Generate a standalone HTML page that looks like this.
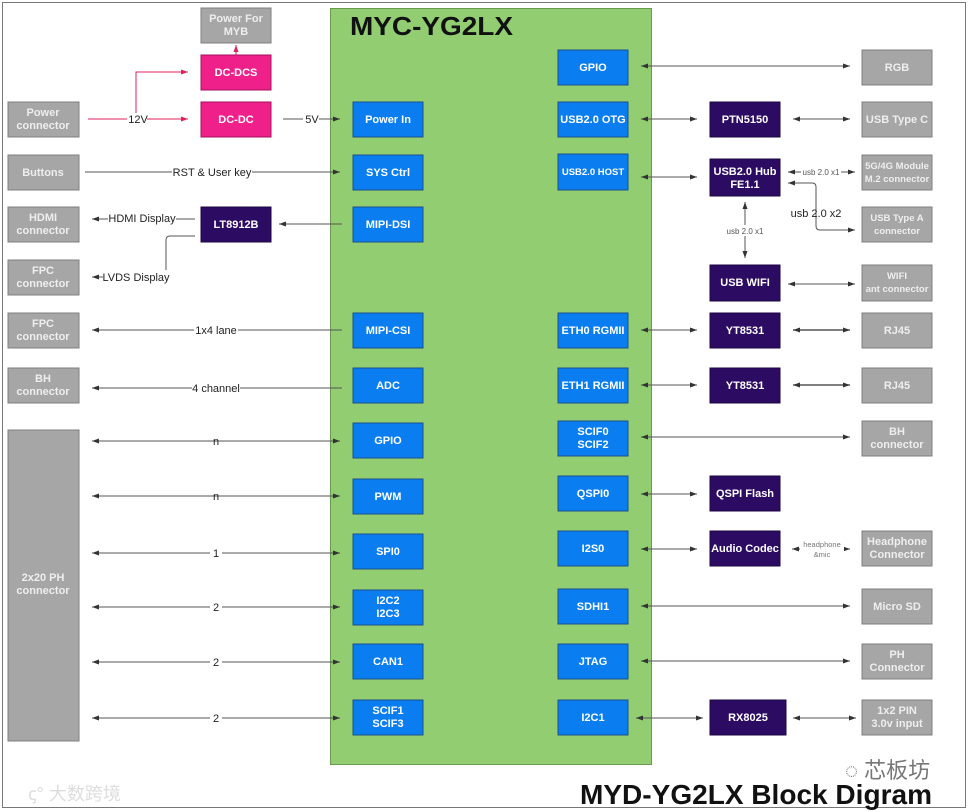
<!DOCTYPE html>
<html><head><meta charset="utf-8"><style>
html,body{margin:0;padding:0;background:#fff;}
svg{display:block;font-family:"Liberation Sans",Arial,sans-serif;}
.g{fill:#a6a6a6;stroke:#7f7f7f;stroke-width:1}
.b{fill:#0a7ef0;stroke:#1c4f8a;stroke-width:1}
.p{fill:#2c0b63;stroke:#1c0740;stroke-width:1}
.k{fill:#f0208a;stroke:#a0105a;stroke-width:1}
.t{font-size:11px;font-weight:bold;fill:#fff;text-anchor:middle}
.tg{font-size:11px;font-weight:bold;fill:#eeeeee;text-anchor:middle}
.sm{font-size:9.5px}
.l{stroke:#555;stroke-width:1;fill:none}
.lb{font-size:11px;fill:#222;text-anchor:middle}
</style></head><body>
<svg width="968" height="812" viewBox="0 0 968 812" xmlns="http://www.w3.org/2000/svg">
<defs>
<marker id="a" markerWidth="8" markerHeight="8" refX="7" refY="4" orient="auto" markerUnits="userSpaceOnUse"><path d="M0,1.5 L7,4 L0,6.5z" fill="#333"/></marker>
<marker id="s" markerWidth="8" markerHeight="8" refX="1" refY="4" orient="auto" markerUnits="userSpaceOnUse"><path d="M8,1.5 L1,4 L8,6.5z" fill="#333"/></marker>
<marker id="r" markerWidth="8" markerHeight="8" refX="7" refY="4" orient="auto" markerUnits="userSpaceOnUse"><path d="M0,1.5 L7,4 L0,6.5z" fill="#e0205a"/></marker>
</defs>
<rect x="2.5" y="2.5" width="963" height="805" fill="#fff" stroke="#777" stroke-width="1"/>
<rect x="330.5" y="8.5" width="321" height="756" fill="#92cd72" stroke="#6a9a50"/>
<text x="350" y="35" font-size="26" font-weight="bold" fill="#111" textLength="163" lengthAdjust="spacingAndGlyphs">MYC-YG2LX</text>

<!-- left gray -->
<rect class="g" x="8" y="102" width="71" height="35"/><text class="tg" x="43" y="116">Power</text><text class="tg" x="43" y="129">connector</text>
<rect class="g" x="8" y="155" width="71" height="35"/><text class="tg" x="43" y="176">Buttons</text>
<rect class="g" x="8" y="207" width="71" height="35"/><text class="tg" x="43" y="221">HDMI</text><text class="tg" x="43" y="234">connector</text>
<rect class="g" x="8" y="260" width="71" height="35"/><text class="tg" x="43" y="274">FPC</text><text class="tg" x="43" y="287">connector</text>
<rect class="g" x="8" y="313" width="71" height="35"/><text class="tg" x="43" y="327">FPC</text><text class="tg" x="43" y="340">connector</text>
<rect class="g" x="8" y="368" width="71" height="35"/><text class="tg" x="43" y="382">BH</text><text class="tg" x="43" y="395">connector</text>
<rect class="g" x="8" y="430" width="71" height="311"/><text class="tg" x="43" y="581">2x20 PH</text><text class="tg" x="43" y="594">connector</text>

<!-- power -->
<rect class="g" x="201" y="8" width="70" height="35"/><text class="tg" x="236" y="22">Power For</text><text class="tg" x="236" y="35">MYB</text>
<rect class="k" x="201" y="55" width="70" height="35"/><text class="t" x="236" y="76">DC-DCS</text>
<rect class="k" x="201" y="102" width="70" height="35"/><text class="t" x="236" y="123">DC-DC</text>
<rect class="p" x="201" y="207" width="70" height="35"/><text class="t" x="236" y="228">LT8912B</text>

<path d="M88,119 H188" stroke="#e0205a" fill="none" marker-end="url(#r)"/>
<path d="M136,119 V72 H188" stroke="#e0205a" fill="none" marker-end="url(#r)"/>
<rect x="127" y="113" width="20" height="12" fill="#fff"/><text class="lb" x="138" y="123">12V</text>
<path d="M236,55 V45" stroke="#e0205a" fill="none" marker-end="url(#r)"/>
<path class="l" d="M283,119 H340" marker-end="url(#a)"/><rect x="303" y="113" width="16" height="12" fill="#fff"/><text class="lb" x="312" y="123">5V</text>
<path class="l" d="M85,172 H340" marker-end="url(#a)"/><rect x="172" y="165" width="80" height="13" fill="#fff"/><text class="lb" x="212" y="176">RST &amp; User key</text>
<path class="l" d="M342,224 H279" marker-end="url(#a)"/>
<path class="l" d="M195,219 H92" marker-end="url(#a)"/><rect x="108" y="212" width="68" height="13" fill="#fff"/><text class="lb" x="142" y="222">HDMI Display</text>
<path class="l" d="M195,236 H170 Q166,236 166,240 V277 H92" marker-end="url(#a)"/><rect x="103" y="270" width="66" height="13" fill="#fff"/><text class="lb" x="136" y="281">LVDS Display</text>
<path class="l" d="M342,330 H92" marker-end="url(#a)"/><rect x="194" y="324" width="44" height="13" fill="#fff"/><text class="lb" x="216" y="334">1x4 lane</text>
<path class="l" d="M342,388 H92" marker-end="url(#a)"/><rect x="192" y="382" width="48" height="13" fill="#fff"/><text class="lb" x="216" y="392">4 channel</text>
<g>
<path class="l" d="M92,441 H340" marker-start="url(#s)" marker-end="url(#a)"/><text class="lb" x="216" y="445">n</text>
<path class="l" d="M92,496 H340" marker-start="url(#s)" marker-end="url(#a)"/><text class="lb" x="216" y="500">n</text>
<path class="l" d="M92,553 H340" marker-start="url(#s)" marker-end="url(#a)"/><rect x="210" y="546" width="12" height="12" fill="#fff"/><text class="lb" x="216" y="557">1</text>
<path class="l" d="M92,607 H340" marker-start="url(#s)" marker-end="url(#a)"/><rect x="210" y="600" width="12" height="12" fill="#fff"/><text class="lb" x="216" y="611">2</text>
<path class="l" d="M92,662 H340" marker-start="url(#s)" marker-end="url(#a)"/><rect x="210" y="655" width="12" height="12" fill="#fff"/><text class="lb" x="216" y="666">2</text>
<path class="l" d="M92,718 H340" marker-start="url(#s)" marker-end="url(#a)"/><rect x="210" y="711" width="12" height="12" fill="#fff"/><text class="lb" x="216" y="722">2</text>
</g>

<!-- left blue -->
<rect class="b" x="353" y="102" width="70" height="35"/><text class="t" x="388" y="123">Power In</text>
<rect class="b" x="353" y="155" width="70" height="35"/><text class="t" x="388" y="176">SYS Ctrl</text>
<rect class="b" x="353" y="207" width="70" height="35"/><text class="t" x="388" y="228">MIPI-DSI</text>
<rect class="b" x="353" y="313" width="70" height="35"/><text class="t" x="388" y="334">MIPI-CSI</text>
<rect class="b" x="353" y="368" width="70" height="35"/><text class="t" x="388" y="389">ADC</text>
<rect class="b" x="353" y="423" width="70" height="35"/><text class="t" x="388" y="444">GPIO</text>
<rect class="b" x="353" y="479" width="70" height="35"/><text class="t" x="388" y="500">PWM</text>
<rect class="b" x="353" y="534" width="70" height="35"/><text class="t" x="388" y="555">SPI0</text>
<rect class="b" x="353" y="590" width="70" height="35"/><text class="t" x="388" y="604">I2C2</text><text class="t" x="388" y="617">I2C3</text>
<rect class="b" x="353" y="644" width="70" height="35"/><text class="t" x="388" y="665">CAN1</text>
<rect class="b" x="353" y="700" width="70" height="35"/><text class="t" x="388" y="714">SCIF1</text><text class="t" x="388" y="727">SCIF3</text>

<!-- right blue -->
<rect class="b" x="558" y="50" width="70" height="35"/><text class="t" x="593" y="71">GPIO</text>
<rect class="b" x="558" y="102" width="70" height="35"/><text class="t" x="593" y="123">USB2.0 OTG</text>
<rect class="b" x="558" y="154" width="70" height="36"/><text class="t sm" x="593" y="175">USB2.0 HOST</text>
<rect class="b" x="558" y="313" width="70" height="35"/><text class="t" x="593" y="334">ETH0 RGMII</text>
<rect class="b" x="558" y="368" width="70" height="35"/><text class="t" x="593" y="389">ETH1 RGMII</text>
<rect class="b" x="558" y="421" width="70" height="35"/><text class="t" x="593" y="435">SCIF0</text><text class="t" x="593" y="448">SCIF2</text>
<rect class="b" x="558" y="476" width="70" height="35"/><text class="t" x="593" y="497">QSPI0</text>
<rect class="b" x="558" y="531" width="70" height="35"/><text class="t" x="593" y="552">I2S0</text>
<rect class="b" x="558" y="589" width="70" height="35"/><text class="t" x="593" y="610">SDHI1</text>
<rect class="b" x="558" y="644" width="70" height="35"/><text class="t" x="593" y="665">JTAG</text>
<rect class="b" x="558" y="700" width="70" height="35"/><text class="t" x="593" y="721">I2C1</text>

<!-- purple -->
<rect class="p" x="710" y="102" width="70" height="35"/><text class="t" x="745" y="123">PTN5150</text>
<rect class="p" x="710" y="159" width="70" height="37"/><text class="t" x="745" y="175">USB2.0 Hub</text><text class="t" x="745" y="188">FE1.1</text>
<rect class="p" x="710" y="265" width="70" height="36"/><text class="t" x="745" y="286">USB WIFI</text>
<rect class="p" x="710" y="313" width="70" height="35"/><text class="t" x="745" y="334">YT8531</text>
<rect class="p" x="710" y="368" width="70" height="35"/><text class="t" x="745" y="389">YT8531</text>
<rect class="p" x="710" y="476" width="70" height="35"/><text class="t" x="745" y="497">QSPI Flash</text>
<rect class="p" x="710" y="531" width="70" height="35"/><text class="t" x="745" y="552">Audio Codec</text>
<rect class="p" x="710" y="700" width="76" height="35"/><text class="t" x="748" y="721">RX8025</text>

<!-- right gray -->
<rect class="g" x="862" y="50" width="70" height="35"/><text class="tg" x="897" y="71">RGB</text>
<rect class="g" x="862" y="102" width="70" height="35"/><text class="tg" x="897" y="123">USB Type C</text>
<rect class="g" x="862" y="155" width="70" height="35"/><text class="tg sm" x="897" y="169">5G/4G Module</text><text class="tg sm" x="897" y="182">M.2 connector</text>
<rect class="g" x="862" y="207" width="70" height="35"/><text class="tg sm" x="897" y="221">USB Type A</text><text class="tg sm" x="897" y="234">connector</text>
<rect class="g" x="862" y="265" width="70" height="36"/><text class="tg sm" x="897" y="279">WIFI</text><text class="tg sm" x="897" y="292">ant connector</text>
<rect class="g" x="862" y="313" width="70" height="35"/><text class="tg" x="897" y="334">RJ45</text>
<rect class="g" x="862" y="368" width="70" height="35"/><text class="tg" x="897" y="389">RJ45</text>
<rect class="g" x="862" y="421" width="70" height="35"/><text class="tg" x="897" y="435">BH</text><text class="tg" x="897" y="448">connector</text>
<rect class="g" x="862" y="531" width="70" height="35"/><text class="tg" x="897" y="545">Headphone</text><text class="tg" x="897" y="558">Connector</text>
<rect class="g" x="862" y="589" width="70" height="35"/><text class="tg" x="897" y="610">Micro SD</text>
<rect class="g" x="862" y="644" width="70" height="35"/><text class="tg" x="897" y="658">PH</text><text class="tg" x="897" y="671">Connector</text>
<rect class="g" x="862" y="700" width="70" height="35"/><text class="tg" x="897" y="714">1x2 PIN</text><text class="tg" x="897" y="727">3.0v input</text>

<!-- right connectors -->
<path class="l" d="M641,66 H850" marker-start="url(#s)" marker-end="url(#a)"/>
<path class="l" d="M641,119 H697" marker-start="url(#s)" marker-end="url(#a)"/>
<path class="l" d="M793,119 H850" marker-start="url(#s)" marker-end="url(#a)"/>
<path class="l" d="M641,177 H697" marker-start="url(#s)" marker-end="url(#a)"/>
<path class="l" d="M788,172 H855" marker-start="url(#s)" marker-end="url(#a)"/>
<rect x="801" y="166" width="40" height="11" fill="#fff"/><text x="821" y="175" font-size="8" fill="#555" text-anchor="middle">usb 2.0 x1</text>
<path class="l" d="M788,183 H812 Q816,183 816,187 V226 Q816,230 820,230 H855" marker-start="url(#s)" marker-end="url(#a)"/>
<text x="816" y="217" font-size="11" fill="#222" text-anchor="middle">usb 2.0 x2</text>
<path class="l" d="M745,202 V258" marker-start="url(#s)" marker-end="url(#a)"/>
<rect x="724" y="225" width="42" height="11" fill="#fff"/><text x="745" y="234" font-size="8" fill="#555" text-anchor="middle">usb 2.0 x1</text>
<path class="l" d="M788,284 H855" marker-start="url(#s)" marker-end="url(#a)"/>
<path class="l" d="M641,330 H697" marker-start="url(#s)" marker-end="url(#a)"/>
<path stroke="#333" stroke-width="1.3" fill="none" d="M793,330 H850" marker-start="url(#s)" marker-end="url(#a)"/>
<path class="l" d="M641,385 H697" marker-start="url(#s)" marker-end="url(#a)"/>
<path stroke="#333" stroke-width="1.3" fill="none" d="M793,385 H850" marker-start="url(#s)" marker-end="url(#a)"/>
<path class="l" d="M641,437 H850" marker-start="url(#s)" marker-end="url(#a)"/>
<path class="l" d="M641,494 H697" marker-start="url(#s)" marker-end="url(#a)"/>
<path class="l" d="M641,549 H697" marker-start="url(#s)" marker-end="url(#a)"/>
<path class="l" d="M792,549 H850" marker-start="url(#s)" marker-end="url(#a)"/>
<rect x="800" y="538" width="44" height="22" fill="#fff"/>
<text x="822" y="547" font-size="7.5" fill="#777" text-anchor="middle">headphone</text><text x="822" y="557" font-size="7.5" fill="#777" text-anchor="middle">&amp;mic</text>
<path class="l" d="M641,606 H850" marker-start="url(#s)" marker-end="url(#a)"/>
<path class="l" d="M641,661 H850" marker-start="url(#s)" marker-end="url(#a)"/>
<path class="l" d="M636,718 H703" marker-start="url(#s)" marker-end="url(#a)"/>
<path class="l" d="M793,718 H856" marker-start="url(#s)" marker-end="url(#a)"/>

<!-- footer -->
<text x="28" y="800" font-size="18" fill="#ddd" font-family="'Liberation Sans','Noto Sans CJK SC',sans-serif">ꞔ° 大数跨境</text>
<text x="845" y="778" font-size="22" fill="#777" font-family="'Liberation Sans','Noto Sans CJK SC',sans-serif">◌ 芯板坊</text>
<text x="580" y="804" font-size="28" font-weight="bold" fill="#111" textLength="352" lengthAdjust="spacingAndGlyphs">MYD-YG2LX Block Digram</text>
</svg>
</body></html>
